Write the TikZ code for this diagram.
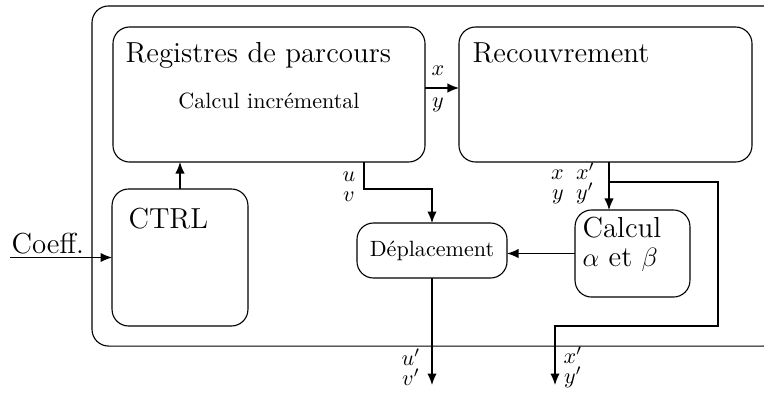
\documentclass[tikz,border=0pt]{standalone}
\usetikzlibrary{arrows.meta}
\begin{document}
\begin{tikzpicture}[x=0.4525pt,y=-0.4525pt,
  line width=0.5pt,
  box/.style={draw,rounded corners=7.5pt,inner sep=0pt,outer sep=0pt},
  bigtxt/.style={font=\fontsize{13.1}{16}\selectfont,inner sep=0pt,anchor=base west},
  lab/.style={inner sep=0pt,text height=1.5ex,text depth=.25ex},
  pair/.style={inner sep=0pt,align=center},
  arr/.style={-{Latex[length=5.2pt,width=4.2pt]}}]
\useasboundingbox (0,0) rectangle (764,392);
\clip (0,0) rectangle (764,392);
% outer frame
\node[box,minimum width=311.3pt,minimum height=153.9pt] (outer) at (436,176) {};
% boxes
\node[box,minimum width=141.2pt,minimum height=61.1pt] (reg) at (269,94.5) {};
\node[box,minimum width=132.6pt,minimum height=61.1pt] (rec) at (605.5,94.5) {};
\node[box,minimum width=61.5pt,minimum height=62pt] (ctrl) at (180,257.5) {};
\node[box,minimum width=67.9pt,minimum height=24.9pt] (dep) at (432,250.5) {D\'eplacement};
\node[box,minimum width=52pt,minimum height=39.4pt] (calc) at (632.5,253.5) {};
% texts
\node[bigtxt] (regt) at (125,62) {Registres de parcours};
\node[inner sep=0pt,anchor=base] (inc) at (269,108) {Calcul incr\'emental};
\node[bigtxt] (rect) at (472,62) {Recouvrement};
\node[bigtxt] (ctrlt) at (128,228) {CTRL};
\node[bigtxt] (calct) at (582,237) {Calcul};
\node[bigtxt] (calcab) at (582,266) {$\alpha$ et $\beta$};
\node[bigtxt] (coefft) at (11,253) {Coeff.};
% coordinates
\coordinate (cin) at (10,257.5);
\coordinate (xy) at (440,88);
\coordinate (uv) at (364,189);
\coordinate (xr) at (609,182);
\coordinate (br1) at (718,182);
\coordinate (br2) at (718,326);
\coordinate (br3) at (555,326);
\coordinate (out2) at (555,385);
\coordinate (out1) at (432,385);
% connectors
\draw[arr] (cin) -- (ctrl.west);
\draw[arr] (ctrl.north) -- (ctrl.north |- reg.south);
\draw[arr] (reg.east |- xy) -- (rec.west |- xy);
\draw[arr] (reg.south -| uv) -- (uv) -| (dep.north);
\draw[arr] (rec.south -| xr) -- (calc.north -| xr);
\draw[arr] (xr) -- (br1) -- (br2) -- (br3) -- (out2);
\draw[arr] (calc.west) -- (dep.east |- calc.west);
\draw[arr] (dep.south) -- (out1);
% labels
\node[lab] (lx) at (438,70) {$x$};
\node[lab] (ly) at (438,102) {$y$};
\node[pair] (luv) at (349,187) {$u$\\[-3pt]$v$};
\node[pair] (lxy) at (573,183) {$x\;\;x'$\\[-3pt]$y\;\;y'$};
\node[pair] (luv2) at (411,367) {$u'$\\[-3pt]$v'$};
\node[pair] (lxy2) at (573,367) {$x'$\\[-3pt]$y'$};
\end{tikzpicture}
\end{document}
